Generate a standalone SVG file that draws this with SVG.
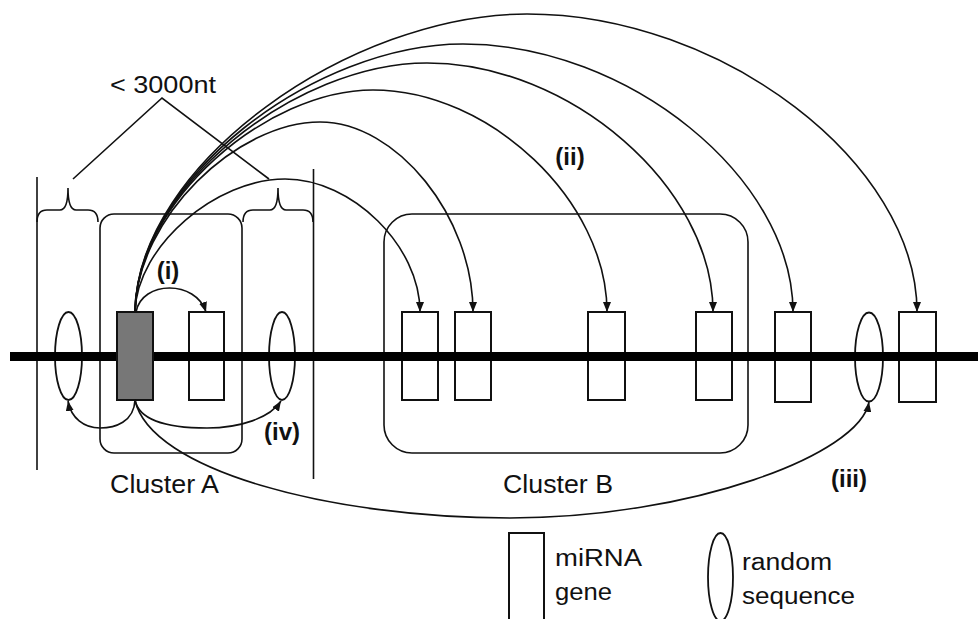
<svg xmlns="http://www.w3.org/2000/svg" width="978" height="619" viewBox="0 0 978 619">
<style>
.ln{fill:none;stroke:#111;stroke-width:1.6}
.box{fill:none;stroke:#111;stroke-width:1.6}
.gene{fill:none;stroke:#111;stroke-width:2}
.rnd{fill:none;stroke:#111;stroke-width:1.8}
.arc{fill:none;stroke:#111;stroke-width:1.6;marker-end:url(#ah)}
.t{font-family:"Liberation Sans",Arial,sans-serif;fill:#111}
.lab{font-family:"Liberation Sans",Arial,sans-serif;font-weight:bold;font-size:24px;fill:#111}
</style>
<defs>
<marker id="ah" markerUnits="userSpaceOnUse" markerWidth="10" markerHeight="8" viewBox="0 0 10 8" refX="10" refY="4" orient="auto">
<path d="M0,0 L10,4 L0,8 z" fill="#111"/>
</marker>
</defs>
<rect width="978" height="619" fill="#fff"/>

<g id="bounds">
<line class="ln" x1="37" y1="177" x2="37" y2="470"/>
<line class="ln" x1="313.5" y1="169" x2="313.5" y2="479"/>
<path class="ln" d="M37,222 Q37,210 47,210 L60,210 Q68,210 68,188 Q68,210 76,210 L88,210 Q98,210 98,222"/>
<path class="ln" d="M243,222 Q243,210 253,210 L270,210 Q278,210 278,188 Q278,210 286,210 L303,210 Q313,210 313,222"/>
<path class="ln" d="M73,179 L162,98 L269,179"/>
<text class="t" x="110" y="93" font-size="24" textLength="106" lengthAdjust="spacingAndGlyphs">&lt; 3000nt</text>
</g>

<g id="clusterA">
<rect class="box" x="100" y="214" width="142" height="239" rx="14"/>
<text class="t" x="110" y="493" font-size="26" textLength="109" lengthAdjust="spacingAndGlyphs">Cluster A</text>
</g>
<g id="clusterB">
<rect class="box" x="384" y="214" width="364" height="239" rx="28"/>
<text class="t" x="503" y="493" font-size="26" textLength="110" lengthAdjust="spacingAndGlyphs">Cluster B</text>
</g>

<g id="elements">
<ellipse id="rndA1" class="rnd" cx="68.5" cy="356" rx="13.5" ry="44"/>
<rect id="geneA2" class="gene" x="189" y="312" width="35" height="88"/>
<ellipse id="rndA2" class="rnd" cx="282" cy="356" rx="13" ry="44"/>
<rect id="geneB1" class="gene" x="402" y="312" width="36" height="88"/>
<rect id="geneB2" class="gene" x="455" y="312" width="36" height="88"/>
<rect id="geneB3" class="gene" x="588" y="312" width="37" height="88"/>
<rect id="geneB4" class="gene" x="696" y="312" width="36" height="88"/>
<rect id="gene5" class="gene" x="775" y="312" width="36" height="90"/>
<ellipse id="rnd3" class="rnd" cx="869" cy="357" rx="14" ry="44.5"/>
<rect id="gene6" class="gene" x="899" y="312" width="37" height="90"/>
</g>

<g id="chromosome">
<line x1="10" y1="356.5" x2="978" y2="356.5" stroke="#000" stroke-width="9"/>
</g>

<g id="source">
<rect x="117" y="312" width="36" height="88" fill="#777" stroke="#111" stroke-width="2"/>
</g>

<g id="connectors">
<path class="arc" d="M136,312 C142,280 196,280 206,312"/>
<path class="arc" d="M135,312 C137,245 217,179 285,179 C352,179 420,246 420,312"/>
<path class="arc" d="M135,312 C137,217 237,122 320,122 C397,122 473,217 473,312"/>
<path class="arc" d="M135,312 C137,201 266,90 373,90 C490,90 607,201 607,312"/>
<path class="arc" d="M135,312 C137,187 296,63 427,63 C570,63 713,187 713,312"/>
<path class="arc" d="M135,312 C137,178 315,44 463,44 C628,44 793,178 793,312"/>
<path class="arc" d="M135,312 C137,163 351,14 527,14 C722,14 917,163 917,312"/>
<path class="arc" d="M135,400 C134,422 115,428 100,428 C84,428 71,418 68,401"/>
<path class="arc" d="M135,400 C140,425 180,428 207,428 C240,428 270,418 281,401"/>
<path class="arc" d="M135,400 C150,470 330,518 510,518 C690,518 860,455 869,402"/>
</g>

<g id="labels">
<text class="lab" x="168" y="279" text-anchor="middle">(i)</text>
<text class="lab" x="570" y="165" text-anchor="middle">(ii)</text>
<text class="lab" x="849" y="487" text-anchor="middle">(iii)</text>
<text class="lab" x="282" y="440" text-anchor="middle">(iv)</text>
</g>

<g id="legend">
<rect class="gene" x="509" y="533" width="35" height="100"/>
<text class="t" x="555" y="566" font-size="23" textLength="87" lengthAdjust="spacingAndGlyphs">miRNA</text>
<text class="t" x="555" y="600" font-size="23" textLength="57" lengthAdjust="spacingAndGlyphs">gene</text>
<ellipse class="rnd" cx="720.5" cy="577" rx="12.5" ry="44"/>
<text class="t" x="742" y="570" font-size="23" textLength="90" lengthAdjust="spacingAndGlyphs">random</text>
<text class="t" x="742" y="604" font-size="23" textLength="113" lengthAdjust="spacingAndGlyphs">sequence</text>
</g>
</svg>
